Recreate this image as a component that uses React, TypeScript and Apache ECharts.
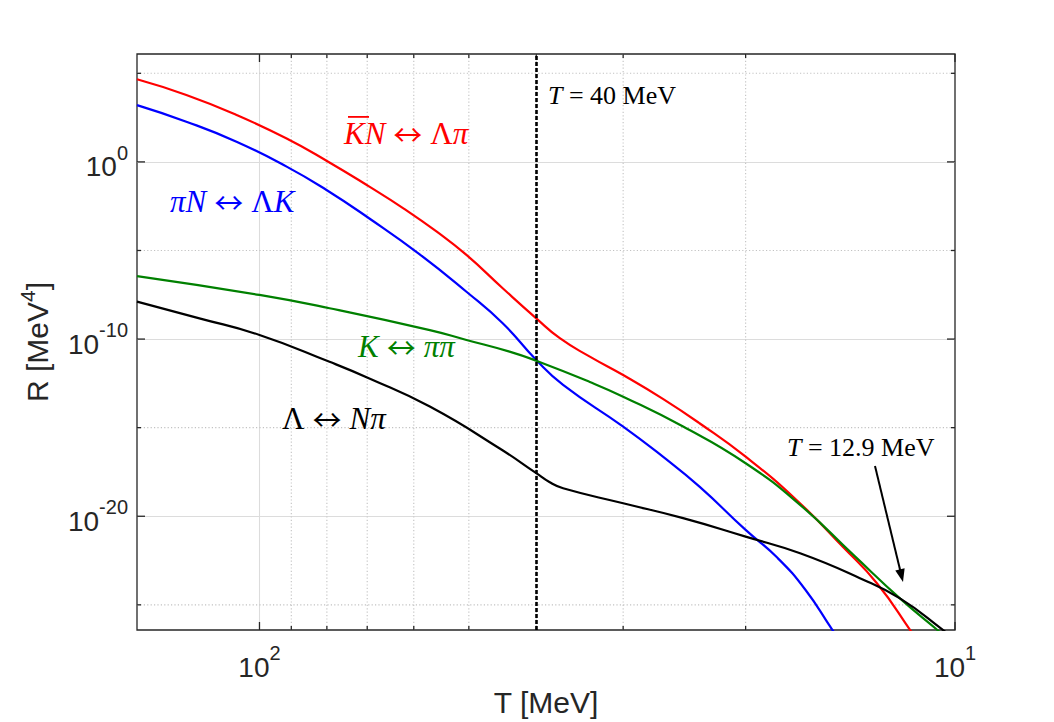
import React, { useEffect, useRef } from 'react';
import * as echarts from 'echarts';

// ---- data (T in MeV, R in MeV^4) ----
const redT = [150, 127.4, 107.9, 91.4, 80.1, 69.5, 62.1, 55.6, 50.4, 44.7, 40, 37.0, 33.5, 30, 26.3, 23.3, 20, 16.9, 14.5, 12.95, 11.6, 11.0];
const redR = [4.6e4, 6.0e3, 4.5e2, 2.1e1, 1.17, 4.0e-2, 2.4e-3, 1.15e-4, 5.6e-6, 7.4e-8, 1.48e-9, 1.12e-10, 1.02e-11, 9.3e-13, 4.2e-14, 1.78e-15, 2.3e-17, 8.3e-20, 1.9e-22, 1.66e-24, 3.8e-27, 1.6e-28];

const blueT = [150, 127.4, 107.9, 91.4, 80.1, 69.5, 58.9, 50.4, 44.7, 40, 36.6, 30, 26.3, 23.3, 20, 18, 16.4, 15, 14.4];
const blueR = [1.6e3, 1.86e2, 13.8, 0.54, 2.6e-2, 6.4e-4, 6.3e-6, 4.7e-8, 7.8e-10, 6.6e-12, 2.6e-13, 1.15e-15, 2.3e-17, 4.7e-19, 1.7e-21, 4.5e-23, 6.9e-25, 3.8e-27, 4.3e-28];

const greenT = [150, 100, 79.3, 56.9, 50.4, 43.7, 40, 33.5, 30, 24.6, 20, 16.7, 14, 12, 10.6, 10];
const greenR = [3.6e-7, 3.1e-8, 5.5e-9, 3.2e-10, 8.9e-11, 1.95e-11, 6.0e-12, 3.8e-13, 5.6e-14, 1.15e-15, 9.8e-18, 4.4e-20, 6.6e-23, 2.3e-25, 3.8e-27, 5.5e-28];

const blackT = [150, 122, 100, 79.3, 69.5, 56.9, 45.2, 40, 38.3, 36.6, 30, 24.6, 20, 16.7, 13.7, 12, 10.4, 10];
const blackR = [1.29e-8, 1.48e-9, 1.7e-10, 5.2e-12, 6.0e-13, 1.55e-14, 6.9e-17, 2.7e-18, 8.5e-19, 3.8e-19, 5.4e-20, 7.8e-21, 7.1e-22, 8.1e-23, 3.2e-24, 2.3e-25, 3.8e-27, 1.05e-27];

const markerT = 40;

// axis ticks
const xMajorTicks = [10, 100];
const xMinorTicks = [20, 30, 40, 50, 60, 70, 80, 90];
const yMajorTicks = [1e-20, 1e-10, 1e0];
const yMinorTicks = [1e-25, 1e-15, 1e-5, 1e5];

const X_MIN = 10;
const X_MAX = 150;
const Y_MIN = -26.42; // log10 R
const Y_MAX = 6.09;

const AX = '#262626';
const SANS = 'Liberation Sans, Arial, Helvetica, sans-serif';
const SERIF = 'Liberation Serif, Times New Roman, serif';
const ARROWFONT = 'Noto Sans CJK JP, Noto Sans CJK SC, DejaVu Sans, sans-serif';

const toSeries = (t: number[], r: number[]) => t.map((v, i) => [v, Math.log10(r[i])]);

const mathRich = (size: number, color: string) => ({
  i: { fontFamily: SERIF, fontStyle: 'italic', fontSize: size, fill: color, color, verticalAlign: 'middle' },
  r: { fontFamily: SERIF, fontSize: size, fill: color, color, verticalAlign: 'middle' },
  a: {
    fontFamily: ARROWFONT,
    fontSize: Math.round(size * 0.95),
    fill: color,
    color,
    verticalAlign: 'middle',
    width: Math.round(size * 1.45),
    align: 'center',
  },
});

const mathText = (x: number, y: number, text: string, size: number, color: string) => ({
  type: 'text',
  x,
  y,
  z: 20,
  silent: true,
  style: {
    text,
    rich: mathRich(size, color),
    fill: color,
    fontFamily: SERIF,
    fontSize: size,
    align: 'left',
    verticalAlign: 'middle',
    textAlign: 'left',
    textVerticalAlign: 'middle',
  },
});

const renderTicks = (params: any, api: any) => {
  const cs = params.coordSys;
  const p = api.coord([api.value(0), api.value(1)]);
  const isY = api.value(2) === 1;
  const len = api.value(3);
  const dotted = api.value(4) === 1;
  const tickStyle = { stroke: AX, lineWidth: 1.3 };
  const gridStyle = { stroke: '#c2c2c2', lineWidth: 1.1, lineDash: [1.2, 2.2] };
  const children: any[] = [];
  if (!isY) {
    const x = p[0];
    if (dotted) children.push({ type: 'line', shape: { x1: x, y1: cs.y, x2: x, y2: cs.y + cs.height }, style: gridStyle });
    children.push({ type: 'line', shape: { x1: x, y1: cs.y + cs.height, x2: x, y2: cs.y + cs.height - len }, style: tickStyle });
    children.push({ type: 'line', shape: { x1: x, y1: cs.y, x2: x, y2: cs.y + len }, style: tickStyle });
  } else {
    const y = p[1];
    if (dotted) children.push({ type: 'line', shape: { x1: cs.x, y1: y, x2: cs.x + cs.width, y2: y }, style: gridStyle });
    children.push({ type: 'line', shape: { x1: cs.x, y1: y, x2: cs.x + len, y2: y }, style: tickStyle });
    children.push({ type: 'line', shape: { x1: cs.x + cs.width, y1: y, x2: cs.x + cs.width - len, y2: y }, style: tickStyle });
  }
  return { type: 'group', children };
};

const tickData = [
  ...xMajorTicks.map((v) => [v, 0, 0, 8, 0]),
  ...xMinorTicks.map((v) => [v, 0, 0, 4, 1]),
  ...yMajorTicks.map((v) => [30, Math.log10(v), 1, 8, 0]),
  ...yMinorTicks.map((v) => [30, Math.log10(v), 1, 4, 1]),
];

const supRich = {
  b: { fontSize: 28, fontFamily: SANS, color: AX, lineHeight: 38, verticalAlign: 'bottom' },
  s: { fontSize: 20, fontFamily: SANS, color: AX, lineHeight: 38, verticalAlign: 'top' },
};

export default function App() {
  const ref = useRef<HTMLDivElement>(null);
  useEffect(() => {
    if (!ref.current) return;
    const chart = echarts.init(ref.current, null, { renderer: 'svg' });
    const lineSeries = (name: string, t: number[], r: number[], color: string, extra: any = {}) => ({
      name,
      type: 'line',
      data: toSeries(t, r),
      showSymbol: false,
      symbol: 'none',
      smooth: 0.5,
      clip: true,
      silent: true,
      lineStyle: { color, width: 2.2 },
      z: 3,
      ...extra,
    });
    const tip = [903, 582];
    const tail = [875, 466];
    const dx = tip[0] - tail[0];
    const dy = tip[1] - tail[1];
    const L = Math.sqrt(dx * dx + dy * dy);
    const ux = dx / L;
    const uy = dy / L;
    const hb = [tip[0] - 13 * ux, tip[1] - 13 * uy];
    const px = -uy * 4.8;
    const py = ux * 4.8;
    chart.setOption({
      animation: false,
      backgroundColor: '#ffffff',
      grid: {
        left: 137,
        top: 54,
        width: 818,
        height: 576,
        show: true,
        borderColor: AX,
        borderWidth: 1.3,
        backgroundColor: 'rgba(0,0,0,0)',
        containLabel: false,
        outerBoundsMode: 'none',
      },
      xAxis: {
        type: 'log',
        logBase: 10,
        min: X_MIN,
        max: X_MAX,
        inverse: true,
        axisLine: { show: false },
        axisTick: { show: false },
        splitLine: { show: true, showMinLine: false, showMaxLine: false, lineStyle: { color: '#dcdcdc', width: 1.1 } },
        axisLabel: {
          margin: 13,
          formatter: (v: number) => {
            const e = Math.log10(v);
            const r = Math.round(e);
            return Math.abs(e - r) < 1e-6 ? `{b|10}{s|${r}}` : '';
          },
          rich: supRich,
        },
        name: 'T [MeV]',
        nameLocation: 'middle',
        nameGap: 57,
        nameTextStyle: { fontSize: 30, fontFamily: SANS, color: AX },
      },
      yAxis: {
        type: 'value',
        min: Y_MIN,
        max: Y_MAX,
        splitNumber: 3,
        axisLine: { show: false },
        axisTick: { show: false },
        splitLine: { show: true, showMinLine: false, showMaxLine: false, lineStyle: { color: '#dcdcdc', width: 1.1 } },
        axisLabel: {
          margin: 9,
          formatter: (v: number) => {
            const r = Math.round(v);
            return Math.abs(v - r) < 1e-6 && r % 10 === 0 ? `{b|10}{s|${r === 0 ? 0 : r}}` : '';
          },
          rich: supRich,
        },
        name: 'R [MeV{s|4}]',
        nameLocation: 'middle',
        nameRotate: 90,
        nameGap: 80,
        nameTextStyle: {
          fontSize: 30,
          fontFamily: SANS,
          color: AX,
          rich: { s: { fontSize: 21, fontFamily: SANS, color: AX, verticalAlign: 'top', lineHeight: 40 } },
        },
      },
      series: [
        {
          type: 'custom',
          silent: true,
          z: 1,
          clip: false,
          encode: { x: 0, y: 1 },
          renderItem: renderTicks,
          data: tickData,
        },
        lineSeries('KbarN', redT, redR, '#ff0000'),
        lineSeries('piN', blueT, blueR, '#0000ff'),
        lineSeries('K', greenT, greenR, '#008000'),
        lineSeries('Lambda', blackT, blackR, '#000000', {
          markLine: {
            silent: true,
            symbol: 'none',
            animation: false,
            label: { show: false },
            lineStyle: { color: '#000000', width: 2.6, type: [4, 2] },
            data: [{ xAxis: markerT }],
          },
        }),
      ],
      graphic: [
        mathText(548, 95, '{i|T}{r| = 40 MeV}', 26, '#000000'),
        mathText(344, 133, '{i|K}{i|N}{a|↔}{r|Λ}{i|π}', 31, '#ff0000'),
        { type: 'rect', z: 20, silent: true, shape: { x: 348, y: 116, width: 21, height: 1.8 }, style: { fill: '#ff0000' } },
        mathText(170, 201, '{i|πN}{a|↔}{r|Λ}{i|K}', 31, '#0000ff'),
        mathText(358, 346, '{i|K}{a|↔}{i|ππ}', 31, '#008000'),
        mathText(282, 418, '{r|Λ}{a|↔}{i|Nπ}', 31, '#000000'),
        mathText(787, 447, '{i|T}{r| = 12.9 MeV}', 26, '#000000'),
        {
          type: 'line',
          z: 20,
          silent: true,
          shape: { x1: tail[0], y1: tail[1], x2: hb[0] + 2 * ux, y2: hb[1] + 2 * uy },
          style: { stroke: '#000000', lineWidth: 2 },
        },
        {
          type: 'polygon',
          z: 20,
          silent: true,
          shape: { points: [[tip[0], tip[1]], [hb[0] + px, hb[1] + py], [hb[0] - px, hb[1] - py]] },
          style: { fill: '#000000' },
        },
      ],
    });
    return () => chart.dispose();
  }, []);
  return <div ref={ref} style={{ position: 'fixed', left: 0, top: 0, width: 1054, height: 722 }} />;
}
